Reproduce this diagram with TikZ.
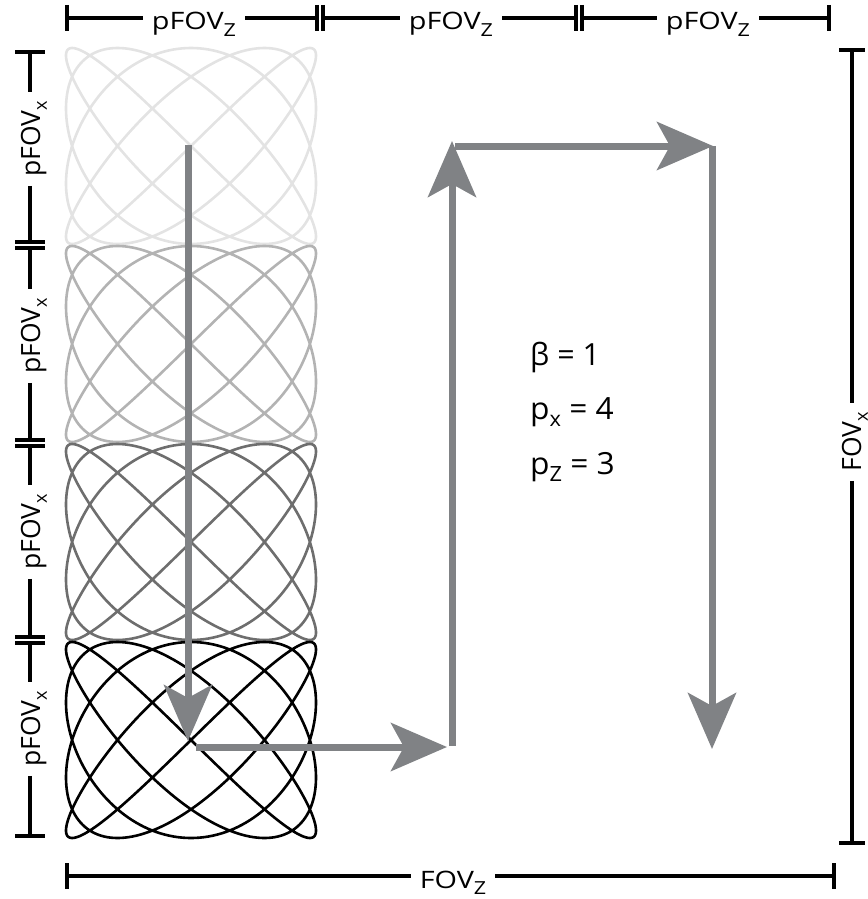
\documentclass[tikz,border=0pt]{standalone}
\usepackage{fontspec}
\setmainfont{Open Sans}
\usetikzlibrary{arrows.meta}
\definecolor{arrowgray}{HTML}{808285}
\definecolor{tileA}{HTML}{E3E3E3}
\definecolor{tileB}{HTML}{B3B3B3}
\definecolor{tileC}{HTML}{6E6E6E}
\newcommand\lsub[1]{\raisebox{-0.26em}{\fontsize{18}{18}\selectfont #1}}
\newcommand\psub[1]{\raisebox{-0.24em}{\fontsize{21}{21}\selectfont #1}}
\newcommand\wide[1]{\scalebox{1.2}[1]{#1}}
\begin{document}
\begin{tikzpicture}[x=1pt,y=-1pt,
  dimline/.style={line width=3.5pt, black},
  garrow/.style={line width=7pt, arrowgray, -{Stealth[length=56pt,width=48pt,inset=13pt]}},
  lab/.style={font=\fontsize{24}{30}\selectfont, inner sep=0pt, inner xsep=9pt},
  vlab/.style={font=\fontsize{26.5}{30}\selectfont, inner sep=0pt, inner xsep=9pt, rotate=90, anchor=base},
  param/.style={font=\fontsize{30.5}{34}\selectfont, inner sep=0pt, anchor=base west},
  liss/.style={line width=2.6pt, samples=721, domain=0:360, variable=\t},
]
\useasboundingbox (0,0) rectangle (867,899);
% Lissajous tiles
\foreach \cy/\col in {146/tileA, 344/tileB, 542/tileC, 740/black} {
  \draw[liss, draw=\col] plot ({191+125*sin(4*\t)}, {\cy+98*sin(5*\t)});
}
% arrows
\coordinate (a1s) at (188,145); \coordinate (a1e) at (188,741);
\coordinate (a2s) at (196,747); \coordinate (a2e) at (447,747);
\coordinate (a3s) at (452,746); \coordinate (a3e) at (452,141);
\coordinate (a4s) at (455,146); \coordinate (a4e) at (713,146);
\coordinate (a5s) at (712,146); \coordinate (a5e) at (712,749);
\draw[garrow] (a1s) -- (a1e);
\draw[garrow] (a2s) -- (a2e);
\draw[garrow] (a3s) -- (a3e);
\draw[garrow] (a4s) -- (a4e);
\draw[garrow] (a5s) -- (a5e);
% top dimension bar
\coordinate (tk0) at (67,18);
\coordinate (tk1a) at (317,18); \coordinate (tk1b) at (323,18);
\coordinate (tk2a) at (576,18); \coordinate (tk2b) at (582,18);
\coordinate (tk3) at (829,18);
\foreach \c in {tk0,tk1a,tk1b,tk2a,tk2b,tk3} {
  \draw[dimline] ([yshift=13pt]\c) -- ([yshift=-13pt]\c);
}
\node[lab, anchor=base] (tz1) at (194,30) {\wide{pFOV\lsub{Z}}};
\node[lab, anchor=base] (tz2) at (451,30) {\wide{pFOV\lsub{Z}}};
\node[lab, anchor=base] (tz3) at (708,30) {\wide{pFOV\lsub{Z}}};
\draw[dimline] (tk0) -- (tz1.west |- tk0);
\draw[dimline] (tz1.east |- tk0) -- (tk1a);
\draw[dimline] (tk1b) -- (tz2.west |- tk0);
\draw[dimline] (tz2.east |- tk0) -- (tk2a);
\draw[dimline] (tk2b) -- (tz3.west |- tk0);
\draw[dimline] (tz3.east |- tk0) -- (tk3);
% left dimension bar
\coordinate (lk0) at (30,52);
\coordinate (lk1a) at (30,242); \coordinate (lk1b) at (30,248);
\coordinate (lk2a) at (30,440); \coordinate (lk2b) at (30,446);
\coordinate (lk3a) at (30,637); \coordinate (lk3b) at (30,643);
\coordinate (lk4) at (30,836);
\foreach \c in {lk0,lk1a,lk1b,lk2a,lk2b,lk3a,lk3b,lk4} {
  \draw[dimline] ([xshift=-15pt]\c) -- ([xshift=15pt]\c);
}
\node[vlab] (lx1) at (40,139) {pFOV\lsub{x}};
\node[vlab] (lx2) at (40,336) {pFOV\lsub{x}};
\node[vlab] (lx3) at (40,532) {pFOV\lsub{x}};
\node[vlab] (lx4) at (40,729) {pFOV\lsub{x}};
\draw[dimline] (lk0) -- (lk0 |- lx1.east);
\draw[dimline] (lk0 |- lx1.west) -- (lk1a);
\draw[dimline] (lk1b) -- (lk0 |- lx2.east);
\draw[dimline] (lk0 |- lx2.west) -- (lk2a);
\draw[dimline] (lk2b) -- (lk0 |- lx3.east);
\draw[dimline] (lk0 |- lx3.west) -- (lk3a);
\draw[dimline] (lk3b) -- (lk0 |- lx4.east);
\draw[dimline] (lk0 |- lx4.west) -- (lk4);
% right dimension bar
\coordinate (rk0) at (852,50);
\coordinate (rk1) at (852,843);
\foreach \c in {rk0,rk1} {
  \draw[dimline] ([xshift=-13pt]\c) -- ([xshift=13pt]\c);
}
\node[vlab] (rx) at (861,442) {FOV\lsub{x}};
\draw[dimline] (rk0) -- (rk0 |- rx.east);
\draw[dimline] (rk0 |- rx.west) -- (rk1);
% bottom dimension bar
\coordinate (bk0) at (67,876);
\coordinate (bk1) at (834,876);
\foreach \c in {bk0,bk1} {
  \draw[dimline] ([yshift=13pt]\c) -- ([yshift=-13pt]\c);
}
\node[lab, anchor=base] (bz) at (453,888) {\wide{FOV\lsub{Z}}};
\draw[dimline] (bk0) -- (bz.west |- bk0);
\draw[dimline] (bz.east |- bk0) -- (bk1);
% parameters
\node[param] (beta) at (530,365) {β = 1};
\node[param] (px) at (530,419) {\scalebox{1.04}[1]{p\psub{x} = 4}};
\node[param] (pz) at (530,474) {\scalebox{1.04}[1]{p\psub{Z} = 3}};
\end{tikzpicture}
\end{document}
